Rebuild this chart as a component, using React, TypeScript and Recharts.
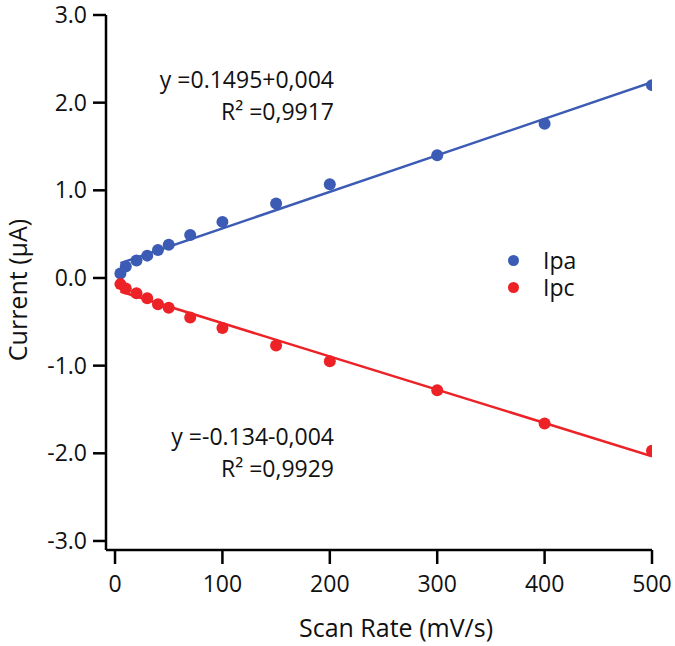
import { ScatterChart, Scatter, XAxis, YAxis, Legend, Customized } from "recharts";

// scan rate (mV/s) and peak currents (µA)
const scanRates = [5, 10, 20, 30, 40, 50, 70, 100, 150, 200, 300, 400, 500];
const ipaValues = [0.05, 0.13, 0.2, 0.255, 0.32, 0.38, 0.49, 0.64, 0.85, 1.07, 1.4, 1.76, 2.2];
const ipcValues = [-0.07, -0.12, -0.175, -0.23, -0.3, -0.34, -0.45, -0.57, -0.77, -0.95, -1.28, -1.66, -1.97];

const xTicks = [0, 100, 200, 300, 400, 500];
const yTicks = [-3, -2, -1, 0, 1, 2, 3];

const seriesNames = ["Ipa", "Ipc"];
const ipaFitText = ["y =0.1495+0,004", "R² =0,9917"];
const ipcFitText = ["y =-0.134-0,004", "R² =0,9929"];

const BLUE = "#3b5bb4";
const RED = "#ec2227";
const FONT = "'Open Sans', sans-serif";

// least squares line through the measured points, drawn from first to last scan rate
const fitLine = (xs: number[], ys: number[]) => {
  const n = xs.length;
  const mx = xs.reduce((a, b) => a + b, 0) / n;
  const my = ys.reduce((a, b) => a + b, 0) / n;
  let sxy = 0;
  let sxx = 0;
  xs.forEach((x, i) => {
    sxy += (x - mx) * (ys[i] - my);
    sxx += (x - mx) * (x - mx);
  });
  const slope = sxy / sxx;
  const intercept = my - slope * mx;
  const ends = [Math.min(...xs), Math.max(...xs)];
  return ends.map((x) => ({ x, y: intercept + slope * x }));
};

const ipaData = scanRates.map((x, i) => ({ x, y: ipaValues[i] }));
const ipcData = scanRates.map((x, i) => ({ x, y: ipcValues[i] }));
const ipaFit = fitLine(scanRates, ipaValues);
const ipcFit = fitLine(scanRates, ipcValues);

const dot = (color: string) => (props: any) => (
  <circle cx={props.cx} cy={props.cy} r={6} fill={color} />
);

const noDot = () => <g />;

const Annotations = () => (
  <g fontFamily={FONT} fontSize={23} fill="#111">
    <text x={334} y={88} textAnchor="end">{ipaFitText[0]}</text>
    <text x={334} y={120} textAnchor="end">{ipaFitText[1]}</text>
    <text x={334} y={445} textAnchor="end">{ipcFitText[0]}</text>
    <text x={334} y={477} textAnchor="end">{ipcFitText[1]}</text>
    <text x={396} y={637} textAnchor="middle" fontSize={25}>Scan Rate (mV/s)</text>
    <text x={27} y={290} textAnchor="middle" fontSize={25} transform="rotate(-90, 27, 290)">
      Current (μA)
    </text>
  </g>
);

const LegendBox = () => (
  <div style={{ fontFamily: FONT, fontSize: 23, color: "#111" }}>
    {seriesNames.map((name, i) => (
      <div key={name} style={{ display: "flex", alignItems: "center", height: 27 }}>
        <span
          style={{
            width: 11,
            height: 11,
            borderRadius: "50%",
            background: i === 0 ? BLUE : RED,
            display: "inline-block",
            marginRight: 24,
          }}
        />
        <span style={{ lineHeight: "23px" }}>{name}</span>
      </div>
    ))}
  </div>
);

export default function App() {
  const axisStyle = { stroke: "#000", strokeWidth: 2.5 };
  const tickStyle = { fill: "#111", fontSize: 23, fontFamily: FONT };
  return (
    <div style={{ position: "absolute", left: 0, top: 0, background: "#fff" }}>
      <ScatterChart width={675} height={646} margin={{ top: 15, right: 23, left: 0, bottom: 6 }}>
        <XAxis
          type="number"
          dataKey="x"
          domain={[-8.4, 500]}
          ticks={xTicks}
          allowDataOverflow
          height={90}
          tickSize={14}
          tickMargin={12}
          axisLine={axisStyle}
          tickLine={axisStyle}
          tick={tickStyle}
        />
        <YAxis
          type="number"
          dataKey="y"
          domain={[-3.103, 3]}
          ticks={yTicks}
          allowDataOverflow
          width={106}
          tickSize={13}
          tickMargin={6}
          axisLine={axisStyle}
          tickLine={axisStyle}
          tick={tickStyle}
          tickFormatter={(v: number) => v.toFixed(1)}
        />
        <Scatter data={ipaFit} line={{ stroke: BLUE, strokeWidth: 2.5 }} shape={noDot} isAnimationActive={false} legendType="none" />
        <Scatter data={ipcFit} line={{ stroke: RED, strokeWidth: 2.5 }} shape={noDot} isAnimationActive={false} legendType="none" />
        <Scatter name="Ipa" data={ipaData} shape={dot(BLUE)} isAnimationActive={false} />
        <Scatter name="Ipc" data={ipcData} shape={dot(RED)} isAnimationActive={false} />
        <Legend
          layout="vertical"
          align="center"
          verticalAlign="middle"
          content={() => <LegendBox />}
          wrapperStyle={{ left: 508, top: 247, width: "auto" }}
        />
        <Customized component={Annotations} />
      </ScatterChart>
    </div>
  );
}
